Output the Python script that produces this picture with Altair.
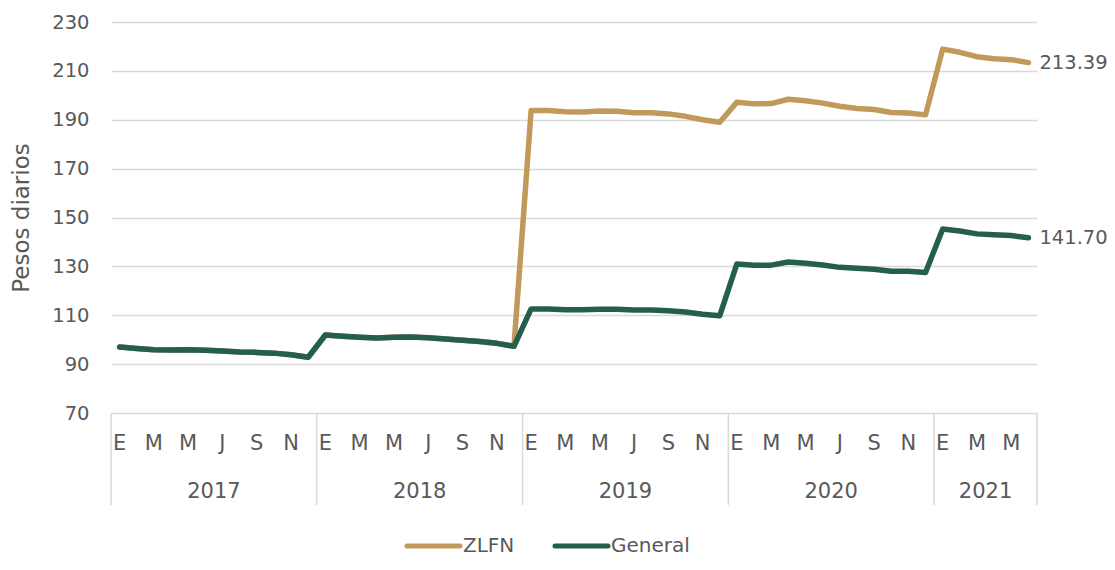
import altair as alt
import pandas as pd

# ---- data -------------------------------------------------------------
years = ["2017", "2018", "2019", "2020", "2021"]
month_letters = ["E", "F", "M", "A", "M", "J", "J", "A", "S", "O", "N", "D"]

general = [
    # 2017
    97.0, 96.4, 95.9, 95.8, 95.9, 95.7, 95.4, 95.0, 94.8, 94.5, 93.8, 92.8,
    # 2018
    101.9, 101.4, 101.0, 100.7, 101.0, 101.1, 100.8, 100.3, 99.8, 99.3, 98.5, 97.3,
    # 2019
    112.6, 112.6, 112.3, 112.3, 112.5, 112.5, 112.1, 112.1, 111.8, 111.3, 110.4, 109.8,
    # 2020
    131.0, 130.5, 130.5, 131.8, 131.3, 130.6, 129.6, 129.2, 128.8, 128.0, 128.0, 127.5,
    # 2021
    145.3, 144.5, 143.3, 142.9, 142.6, 141.70,
]
zlfn = [
    # 2017
    97.0, 96.4, 95.9, 95.8, 95.9, 95.7, 95.4, 95.0, 94.8, 94.5, 93.8, 92.8,
    # 2018
    101.9, 101.4, 101.0, 100.7, 101.0, 101.1, 100.8, 100.3, 99.8, 99.3, 98.5, 97.3,
    # 2019
    193.8, 193.8, 193.3, 193.2, 193.6, 193.5, 192.9, 192.9, 192.4, 191.4, 190.0, 189.0,
    # 2020
    197.2, 196.5, 196.6, 198.4, 197.8, 196.8, 195.5, 194.6, 194.2, 193.0, 192.8, 192.0,
    # 2021
    218.9, 217.6, 215.8, 215.0, 214.6, 213.39,
]
series_names = ["ZLFN", "General"]
colors = ["#C19A5B", "#235E4F"]
y_ticks = [70, 90, 110, 130, 150, 170, 190, 210, 230]

# ---- tables ------------------------------------------------------------
n = len(general)
rows = []
for name, vals in zip(series_names, [zlfn, general]):
    for i, v in enumerate(vals):
        rows.append({"t": i, "serie": name, "valor": v})
df = pd.DataFrame(rows)

last = pd.DataFrame([
    {"t": n - 1, "serie": "ZLFN", "valor": zlfn[-1], "lab": f"{zlfn[-1]:.2f}"},
    {"t": n - 1, "serie": "General", "valor": general[-1], "lab": f"{general[-1]:.2f}"},
])

month_rows = [{"t": i, "lab": month_letters[i % 12]} for i in range(n) if i % 2 == 0]
months_df = pd.DataFrame(month_rows)

year_rows = []
for k, yname in enumerate(years):
    start = 12 * k
    end = min(12 * (k + 1), n) - 1
    year_rows.append({"t": (start + end) / 2, "lab": yname})
years_df = pd.DataFrame(year_rows)

sep_df = pd.DataFrame({"t": [-0.5, 11.5, 23.5, 35.5, 47.5, n - 0.5]})

W, H = 926, 391
FONT = "DejaVu Sans"
TXT = "#595959"
GRID = "#D9D9D9"

xscale = alt.Scale(domain=[-0.5, n - 0.5], nice=False, zero=False)
yscale = alt.Scale(domain=[70, 230], nice=False, zero=False)
cscale = alt.Scale(domain=series_names, range=colors)

lines = alt.Chart(df).mark_line(strokeWidth=5.5, strokeCap="round", strokeJoin="round").encode(
    x=alt.X("t:Q", scale=xscale, axis=None),
    y=alt.Y("valor:Q", scale=yscale,
            axis=alt.Axis(values=y_ticks, title="Pesos diarios", grid=True,
                          gridColor=GRID, gridWidth=1.5, domain=False, ticks=False,
                          labelFontSize=19.5, labelColor=TXT, labelFont=FONT,
                          labelPadding=22, titleFont=FONT, titleFontSize=23,
                          titleFontWeight="normal", titleColor=TXT, titlePadding=18)),
    color=alt.Color("serie:N", scale=cscale, legend=None),
    detail="serie:N",
)

end_labels = alt.Chart(last).mark_text(align="left", baseline="middle", dx=11,
                                       fontSize=19.5, font=FONT, color=TXT).encode(
    x=alt.X("t:Q", scale=xscale),
    y=alt.Y("valor:Q", scale=yscale),
    text="lab:N",
)

month_text = alt.Chart(months_df).mark_text(align="center", baseline="middle",
                                            fontSize=21, font=FONT, color=TXT).encode(
    x=alt.X("t:Q", scale=xscale),
    y=alt.value(422),
    text="lab:N",
)

year_text = alt.Chart(years_df).mark_text(align="center", baseline="middle",
                                          fontSize=21, font=FONT, color=TXT).encode(
    x=alt.X("t:Q", scale=xscale),
    y=alt.value(470),
    text="lab:N",
)

seps = alt.Chart(sep_df).mark_rule(color=GRID, strokeWidth=1.5).encode(
    x=alt.X("t:Q", scale=xscale),
    y=alt.value(H),
    y2=alt.value(483),
)

# ---- manual legend (bottom, centred) -----------------------------------
LEG_Y = 524
leg_z_sym = alt.Chart(pd.DataFrame({"serie": ["ZLFN"]})).mark_rule(
    strokeWidth=5, strokeCap="round").encode(
    x=alt.value(296), x2=alt.value(349), y=alt.value(LEG_Y),
    color=alt.Color("serie:N", scale=cscale, legend=None))
leg_g_sym = alt.Chart(pd.DataFrame({"serie": ["General"]})).mark_rule(
    strokeWidth=5, strokeCap="round").encode(
    x=alt.value(444), x2=alt.value(497), y=alt.value(LEG_Y),
    color=alt.Color("serie:N", scale=cscale, legend=None))
leg_txt = alt.Chart(pd.DataFrame({"serie": series_names, "px": [352, 500]})).mark_text(
    align="left", baseline="middle", fontSize=20, font=FONT, color=TXT).encode(
    x=alt.X("px:Q", scale=None), y=alt.value(LEG_Y), text="serie:N")

chart = alt.layer(lines, end_labels, month_text, year_text, seps,
                  leg_z_sym, leg_g_sym, leg_txt).properties(
    width=W, height=H,
    autosize=alt.AutoSizeParams(type="none"),
    padding={"left": 103, "top": 14, "right": 70, "bottom": 147},
).configure_view(stroke=None)

chart.save("out.html", embed_options={"renderer": "svg", "actions": False})
